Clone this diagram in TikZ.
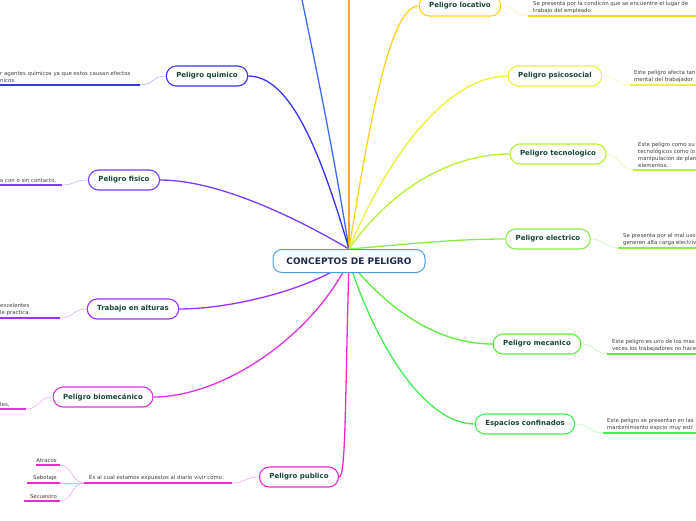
\documentclass[tikz,border=0pt]{standalone}
\usepackage{fontspec}
\setmainfont{DejaVu Sans}
\usepackage{xcolor}
\pgfdeclarelayer{bg}
\pgfsetlayers{bg,main}

\definecolor{croot}{HTML}{4A9FDA}
\definecolor{roottext}{HTML}{1B2A4E}
\definecolor{labelc}{HTML}{17473A}
\definecolor{notec}{HTML}{3F3F3F}
\definecolor{ctop}{HTML}{3D6BFF}
\definecolor{cora}{HTML}{FFA526}
\definecolor{cquim}{HTML}{3535F0}
\definecolor{cfis}{HTML}{7A3BFF}
\definecolor{calt}{HTML}{A030FF}
\definecolor{cbio}{HTML}{E030E8}
\definecolor{cpub}{HTML}{F028D0}
\definecolor{cloc}{HTML}{FFD21E}
\definecolor{cpsi}{HTML}{EEF03A}
\definecolor{ctec}{HTML}{B8F035}
\definecolor{cele}{HTML}{88EE45}
\definecolor{cmec}{HTML}{5CEE3A}
\definecolor{cesp}{HTML}{44EE55}

\begin{document}
\begin{tikzpicture}[x=1pt, y=-1pt,
    root/.style = {draw=croot, fill=white, rounded corners=9pt, line width=1pt, minimum width=152pt, minimum height=23pt, text=roottext, font=\fontsize{9}{10}\selectfont\bfseries},
    main/.style = {draw, fill=white, rounded corners=10pt, line width=1.1pt, minimum height=20pt, inner xsep=10pt, text=labelc, font=\fontsize{7}{8}\selectfont\bfseries},
    note/.style = {inner sep=0pt, align=left, text=notec, font=\fontsize{5.4}{7}\selectfont},
    branch/.style = {line width=1.3pt},
    twig/.style = {line width=0.5pt},
    under/.style = {line width=1.4pt}]
    \useasboundingbox (0,0) rectangle (696,520);
    \clip (0,0) rectangle (696,520);

    \node[root] (root) at (349,261) {CONCEPTOS DE PELIGRO};
    \node[main, draw=cquim] (quim) at (207,76) {Peligro quimico};
    \node[main, draw=cfis] (fis) at (124,180) {Peligro fisico};
    \node[main, draw=calt] (alt) at (133,309) {Trabajo en alturas};
    \node[main, draw=cbio] (bio) at (103,397) {Peligro biomecánico};
    \node[main, draw=cpub] (pub) at (299,477) {Peligro publico};
    \node[main, draw=cloc] (loc) at (460,6) {Peligro locativo};
    \node[main, draw=cpsi] (psi) at (555,76) {Peligro psicosocial};
    \node[main, draw=ctec] (tec) at (558,154) {Peligro tecnologico};
    \node[main, draw=cele] (ele) at (548,239) {Peligro electrico};
    \node[main, draw=cmec] (mec) at (537,344) {Peligro mecanico};
    \node[main, draw=cesp] (esp) at (525,424) {Espacios confinados};
    \coordinate (top1) at (297,-25);
    \coordinate (top2) at (349,-25);

    % branches from the centre
    \begin{pgfonlayer}{bg}
        \clip (0,0) rectangle (696,520);
        \draw[branch, ctop] (root.north) .. controls (330,130) and (310,40) .. (top1);
        \draw[branch, cora] (root.north) -- (top2);
        \draw[branch, cquim] (root.north) .. controls (320,150) and (290,76) .. (quim.east);
        \draw[branch, cfis] (root.north) .. controls (300,220) and (220,180) .. (fis.east);
        \draw[branch, calt] (root.center) .. controls (310,290) and (230,309) .. (alt.east);
        \draw[branch, cbio] (root.center) .. controls (310,340) and (220,397) .. (bio.east);
        \draw[branch, cpub] (root.center) .. controls (345,400) and (346,477) .. (pub.east);
        \draw[branch, cloc] (root.north) .. controls (370,120) and (390,6) .. (loc.west);
        \draw[branch, cpsi] (root.north) .. controls (390,150) and (450,76) .. (psi.west);
        \draw[branch, ctec] (root.north) .. controls (390,190) and (450,154) .. (tec.west);
        \draw[branch, cele] (root.north) .. controls (400,245) and (450,239) .. (ele.west);
        \draw[branch, cmec] (root.center) .. controls (380,300) and (430,344) .. (mec.west);
        \draw[branch, cesp] (root.center) .. controls (370,330) and (420,424) .. (esp.west);
    \end{pgfonlayer}

    % left notes
    \coordinate (quimA) at (140,85); \coordinate (quimB) at (0,85);
    \coordinate (fisA) at (62,185); \coordinate (fisB) at (0,185);
    \coordinate (altA) at (60,318); \coordinate (altB) at (0,318);
    \coordinate (bioA) at (26,409); \coordinate (bioB) at (0,409);
    \coordinate (pubA) at (232,483); \coordinate (pubB) at (84,483);

    \draw[twig, cquim!45] (quim.west) .. controls (152,76) and (154,85) .. (quimA);
    \draw[under, cquim] (quimA) -- (quimB);
    \node[note, anchor=south west] (quimn) at (0,83) {r agentes químicos ya que estos causan efectos\\nicos.};
    \draw[twig, cfis!45] (fis.west) .. controls (74,180) and (75,185) .. (fisA);
    \draw[under, cfis] (fisA) -- (fisB);
    \node[note, anchor=south west] (fisn) at (0,183) {o con o sin contacto,};
    \draw[twig, calt!45] (alt.west) .. controls (73,309) and (73,318) .. (altA);
    \draw[under, calt] (altA) -- (altB);
    \node[note, anchor=south west] (altn) at (0,316) {excelentes\\le practica.};
    \draw[twig, cbio!45] (bio.west) .. controls (39,397) and (39,409) .. (bioA);
    \draw[under, cbio] (bioA) -- (bioB);
    \node[note, anchor=south west] (bion) at (0,407) {les,};
    \draw[twig, cpub!45] (pub.west) .. controls (245,477) and (245,483) .. (pubA);
    \draw[under, cpub] (pubA) -- (pubB);
    \node[note, anchor=south west] (pubn) at (89,481) {Es al cual estamos expuestos al diario vivir como:};

    % sub items of peligro publico
    \coordinate (atrA) at (60,465); \coordinate (atrB) at (36,465);
    \coordinate (sabA) at (60,483); \coordinate (sabB) at (27,483);
    \coordinate (secA) at (60,501); \coordinate (secB) at (24,501);
    \draw[twig, cpub!45] (pubB) .. controls (72,483) and (72,465) .. (atrA);
    \draw[twig, cpub!45] (pubB) -- (sabA);
    \draw[twig, cpub!45] (pubB) .. controls (72,483) and (72,501) .. (secA);
    \draw[under, cpub] (atrA) -- (atrB);
    \draw[under, cpub] (sabA) -- (sabB);
    \draw[under, cpub] (secA) -- (secB);
    \node[note, anchor=south east] (atr) at (57,463) {Atracos};
    \node[note, anchor=south east] (sab) at (57,481) {Sabotaje};
    \node[note, anchor=south east] (sec) at (57,499) {Secuestro};

    % right notes
    \coordinate (locA) at (528,16); \coordinate (locB) at (700,16);
    \coordinate (psiA) at (630,85); \coordinate (psiB) at (700,85);
    \coordinate (tecA) at (633,170); \coordinate (tecB) at (700,170);
    \coordinate (eleA) at (618,248); \coordinate (eleB) at (700,248);
    \coordinate (mecA) at (607,354); \coordinate (mecB) at (700,354);
    \coordinate (espA) at (603,433); \coordinate (espB) at (700,433);

    \draw[twig, cloc!45] (loc.east) .. controls (515,6) and (515,16) .. (locA);
    \draw[under, cloc] (locA) -- (locB);
    \node[note, anchor=south west] (locn) at (533,14) {Se presenta por la condicón que se encuentre el lugar de\\trabajo del empleado};
    \draw[twig, cpsi!45] (psi.east) .. controls (617,76) and (617,85) .. (psiA);
    \draw[under, cpsi] (psiA) -- (psiB);
    \node[note, anchor=south west] (psin) at (634,83) {Este peligro afecta tan\\mental del trabajador};
    \draw[twig, ctec!45] (tec.east) .. controls (620,154) and (620,170) .. (tecA);
    \draw[under, ctec] (tecA) -- (tecB);
    \node[note, anchor=south west] (tecn) at (638,168) {Este peligro como su\\tecnológicos como lo\\manipulación de plan\\elementos.};
    \draw[twig, cele!45] (ele.east) .. controls (605,239) and (605,248) .. (eleA);
    \draw[under, cele] (eleA) -- (eleB);
    \node[note, anchor=south west] (elen) at (623,246) {Se presenta por el mal uso\\generen alta carga electriv};
    \draw[twig, cmec!45] (mec.east) .. controls (595,344) and (595,354) .. (mecA);
    \draw[under, cmec] (mecA) -- (mecB);
    \node[note, anchor=south west] (mecn) at (612,352) {Este peligro es uno de los mas\\veces los trabajadores no hace};
    \draw[twig, cesp!45] (esp.east) .. controls (590,424) and (590,433) .. (espA);
    \draw[under, cesp] (espA) -- (espB);
    \node[note, anchor=south west] (espn) at (607,431) {Este peligro se presentan en las\\mantenimiento  espcio muy estr};
\end{tikzpicture}
\end{document}
